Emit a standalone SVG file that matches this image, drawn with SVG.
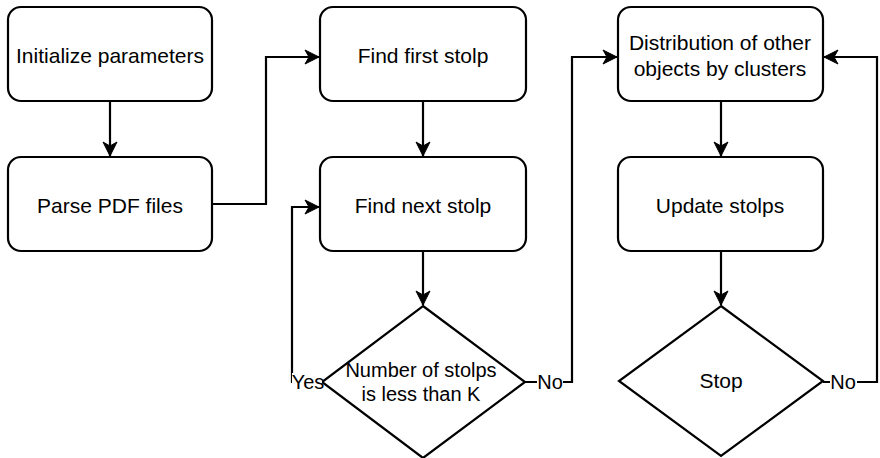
<svg xmlns="http://www.w3.org/2000/svg" width="880" height="458" viewBox="0 0 880 458">
<style>
.n{fill:#fff;stroke:#000;stroke-width:2.2}
.t{font-family:"Liberation Sans",Arial,sans-serif;font-size:21px;fill:#000;text-anchor:middle}
.l{font-family:"Liberation Sans",Arial,sans-serif;font-size:20px;fill:#000;text-anchor:middle}
.c{fill:none;stroke:#000;stroke-width:2.2}
.lb{fill:#fff}
</style>
<defs>
<marker id="a" markerUnits="userSpaceOnUse" markerWidth="17" markerHeight="16" refX="15" refY="8" orient="auto">
<path d="M1,1 L15,8 L1,15 L5,8 Z" fill="#000" stroke="#000" stroke-width="1"/>
</marker>
</defs>
<rect x="0" y="0" width="880" height="458" fill="#fff"/>
<g id="connectors">
<path class="c" d="M110,101 V156" marker-end="url(#a)"/>
<path class="c" d="M212,204 H266 V57 H319" marker-end="url(#a)"/>
<path class="c" d="M423,101 V156" marker-end="url(#a)"/>
<path class="c" d="M423,251 V305" marker-end="url(#a)"/>
<path class="c" d="M322,382 H292 V207 H319" marker-end="url(#a)"/>
<path class="c" d="M525,382 H572 V57 H617" marker-end="url(#a)"/>
<path class="c" d="M721,101 V156" marker-end="url(#a)"/>
<path class="c" d="M721,251 V305" marker-end="url(#a)"/>
<path class="c" d="M823,382 H877 V57 H824" marker-end="url(#a)"/>
</g>
<g id="init"><rect class="n" x="8" y="7" width="204" height="94" rx="13"/><text class="t" x="110" y="63">Initialize parameters</text></g>
<g id="parse"><rect class="n" x="8" y="157" width="204" height="94" rx="13"/><text class="t" x="110" y="213">Parse PDF files</text></g>
<g id="first"><rect class="n" x="320" y="7" width="206" height="94" rx="13"/><text class="t" x="423" y="63">Find first stolp</text></g>
<g id="next"><rect class="n" x="320" y="157" width="206" height="94" rx="13"/><text class="t" x="423" y="213">Find next stolp</text></g>
<g id="check"><polygon class="n" points="423,306 525,382 423,458 322,382"/><text class="t" x="421" y="377" style="font-size:20px">Number of stolps</text><text class="t" x="421" y="401" style="font-size:20px">is less than K</text></g>
<g id="distr"><rect class="n" x="618" y="7" width="205" height="94" rx="13"/><text class="t" x="720" y="50">Distribution of other</text><text class="t" x="720" y="76">objects by clusters</text></g>
<g id="update"><rect class="n" x="618" y="157" width="205" height="94" rx="13"/><text class="t" x="720" y="213">Update stolps</text></g>
<g id="stop"><polygon class="n" points="721,306 823,381 721,456 619,381"/><text class="t" x="721" y="388">Stop</text></g>
<g id="labels">
<rect class="lb" x="292" y="373" width="30" height="18"/><text class="l" x="308" y="389">Yes</text>
<rect class="lb" x="537" y="373" width="26" height="18"/><text class="l" x="550" y="389">No</text>
<rect class="lb" x="830" y="373" width="27" height="18"/><text class="l" x="843" y="389">No</text>
</g>
</svg>
